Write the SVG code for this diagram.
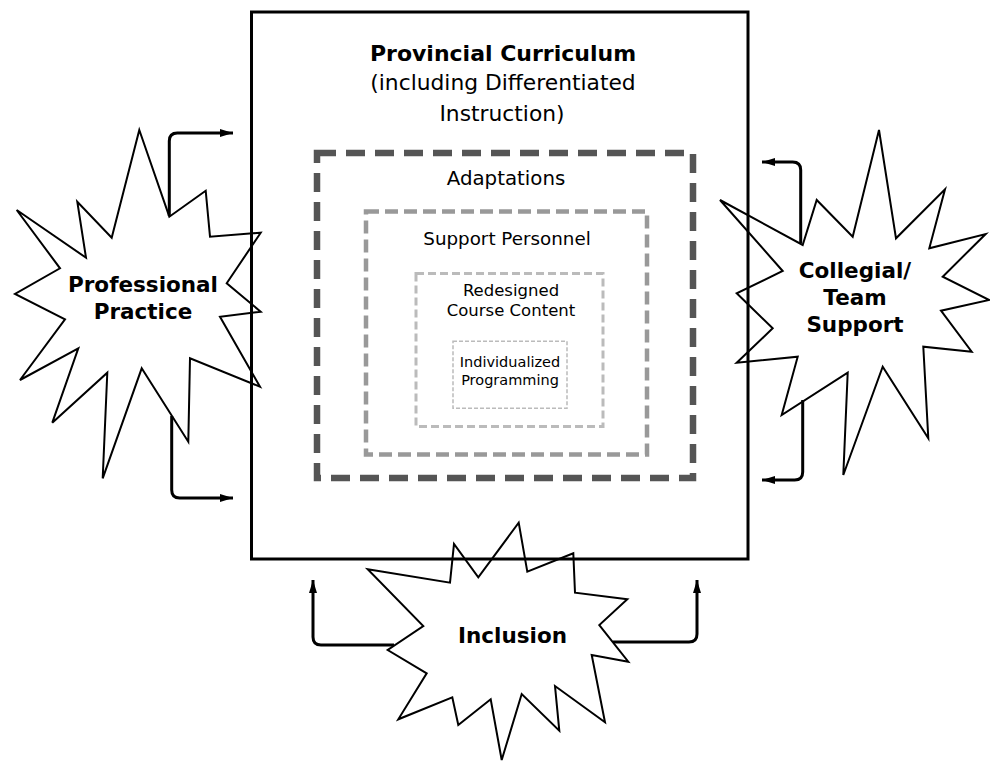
<svg xmlns="http://www.w3.org/2000/svg" width="990" height="762" viewBox="0 0 990 762">
<style>
.burst{fill:#fff;stroke:#000;stroke-width:2;stroke-linejoin:miter}
.lbl{font-family:"DejaVu Sans","Liberation Sans",sans-serif;text-anchor:middle;fill:#000}
.b{font-weight:bold;font-size:21.5px}
.conn{fill:none;stroke:#000;stroke-width:3;marker-end:url(#ah)}
</style>
<defs>
<marker id="ah" markerUnits="userSpaceOnUse" markerWidth="14" markerHeight="10" refX="13" refY="4" orient="auto">
<path d="M0,0 L13,4 L0,8 Z" fill="#000"/>
</marker>
</defs>
<rect width="990" height="762" fill="#fff"/>

<g id="professional-practice">
<polygon class="burst" points="139.3,130 169.3,216.7 205.7,190.7 210,236.7 260.7,232.7 226.7,283.3 260.7,311.7 220,316.7 260,386.7 190,358.3 188.3,441.7 141.7,368.3 102.7,478.3 107.3,372.7 52.3,422.7 78.3,348.3 20,380 65,319.3 15,294 60,268.3 16.7,210 86,257.7 77.3,201.7 111.7,237.7"/>
<text class="lbl b" x="143" y="291.5">Professional</text>
<text class="lbl b" x="143" y="318.5">Practice</text>
</g>

<g id="collegial-team-support">
<polygon class="burst" points="879,130 896,238.3 945,189.3 929.3,248.3 985.7,234 942.7,276.7 989.3,300 941,310.7 971.7,351.7 923.3,346.7 928.3,438.3 882.7,366.7 843.3,475 847.7,372.7 781.7,415 797.7,356.7 736.7,362.7 772.7,328.3 736.7,293.3 782.7,271 720,200 802.7,245 816.7,200 852.7,236.7"/>
<text class="lbl b" x="855" y="277.5">Collegial/</text>
<text class="lbl b" x="855" y="304.5">Team</text>
<text class="lbl b" x="855" y="331.5">Support</text>
</g>

<g id="inclusion">
<polygon class="burst" points="518.7,522.7 527.3,571.7 573.3,553.3 575,592.7 627.3,599.3 599.3,625 628.3,661.7 591.7,655 605,722.3 555,686 559.3,730.7 521.7,694 501.7,760 490.7,699.3 458.3,725 452.3,697.3 398.3,719.3 426.7,673.3 387.7,650 423.3,626 367.7,569.3 450,582.7 454,544 478.3,577.3"/>
<text class="lbl b" x="512.5" y="642.5">Inclusion</text>
</g>

<g id="provincial-curriculum">
<rect x="251.5" y="12" width="496.5" height="547" fill="none" stroke="#000" stroke-width="3"/>
<text class="lbl b" x="503" y="61" style="font-size:22px">Provincial Curriculum</text>
<text class="lbl" x="503" y="90" style="font-size:21.8px">(including Differentiated</text>
<text class="lbl" x="502" y="121" style="font-size:21.8px">Instruction)</text>
</g>

<g id="adaptations">
<rect x="317" y="153" width="376" height="325" fill="none" stroke="#555" stroke-width="6.5" stroke-dasharray="19,10"/>
<text class="lbl" x="506" y="185" style="font-size:19.8px">Adaptations</text>
</g>

<g id="support-personnel">
<rect x="366" y="211.5" width="281" height="243" fill="none" stroke="#999" stroke-width="4.5" stroke-dasharray="13,6"/>
<text class="lbl" x="507" y="245" style="font-size:18.3px">Support Personnel</text>
</g>

<g id="redesigned-course-content">
<rect x="416" y="273.5" width="187" height="153" fill="none" stroke="#bbb" stroke-width="3" stroke-dasharray="8,4"/>
<text class="lbl" x="511" y="296" style="font-size:16.5px">Redesigned</text>
<text class="lbl" x="511" y="316" style="font-size:16.5px">Course Content</text>
</g>

<g id="individualized-programming">
<rect x="453" y="341.3" width="114" height="67" fill="none" stroke="#bbb" stroke-width="1.5" stroke-dasharray="4,2"/>
<text class="lbl" x="510" y="367" style="font-size:14.5px">Individualized</text>
<text class="lbl" x="510" y="385" style="font-size:14.5px">Programming</text>
</g>

<g id="connectors">
<path class="conn" d="M169.3,216 V141 Q169.3,133 177.3,133 H233"/>
<path class="conn" d="M171.7,416 V490 Q171.7,498 179.7,498 H233"/>
<path class="conn" d="M800.7,243 V170 Q800.7,162 792.7,162 H762"/>
<path class="conn" d="M802.7,400 V472 Q802.7,480 794.7,480 H762"/>
<path class="conn" d="M394,645 H321 Q313,645 313,637 V580"/>
<path class="conn" d="M613,642 H689 Q697,642 697,634 V580"/>
</g>
</svg>
